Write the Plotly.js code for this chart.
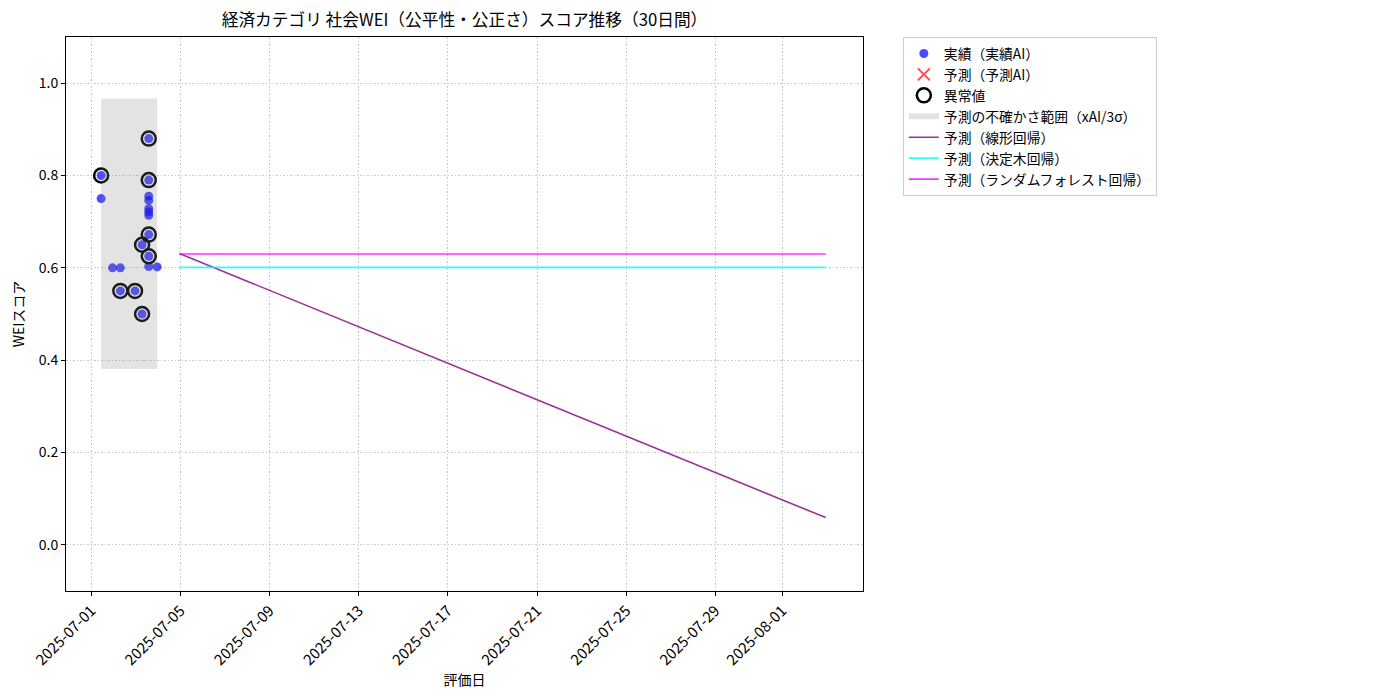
<!DOCTYPE html>
<html>
<head>
<meta charset="utf-8">
<script src="https://cdn.plot.ly/plotly-3.0.1.min.js"></script>
<style>
  body { margin: 0; background: #fff; }
  #chart { width: 1400px; height: 700px; }
</style>
</head>
<body>
<div id="chart"></div>
<script>
// Actual scores (実績AI)
const actualDates = [
  '2025-07-01 10:30', '2025-07-01 10:30', '2025-07-01 22:48', '2025-07-02 07:12', '2025-07-02 07:12',
  '2025-07-02 23:00', '2025-07-03 06:36', '2025-07-03 06:36',
  '2025-07-03 13:48', '2025-07-03 13:48', '2025-07-03 13:48', '2025-07-03 13:48', '2025-07-03 13:48',
  '2025-07-03 13:48', '2025-07-03 13:48', '2025-07-03 13:48', '2025-07-03 13:48', '2025-07-03 13:48',
  '2025-07-03 22:48'
];
const actualScores = [
  0.80, 0.75, 0.60, 0.60, 0.55,
  0.55, 0.50, 0.65,
  0.88, 0.79, 0.755, 0.746, 0.728,
  0.721, 0.714, 0.672, 0.625, 0.603,
  0.602
];

// Anomalies (異常値)
const anomalyDates = [
  '2025-07-01 10:30', '2025-07-02 07:12', '2025-07-02 23:00', '2025-07-03 06:36', '2025-07-03 06:36',
  '2025-07-03 13:48', '2025-07-03 13:48', '2025-07-03 13:48', '2025-07-03 13:48'
];
const anomalyScores = [0.80, 0.55, 0.55, 0.50, 0.65, 0.88, 0.79, 0.672, 0.625];

// Uncertainty band (xAI / 3σ)
const bandDates = ['2025-07-01 10:30', '2025-07-03 22:48'];
const bandLower = 0.381;
const bandUpper = 0.967;

// Forecast lines (30 days)
const forecastDates = ['2025-07-04 22:48', '2025-08-02 22:48'];
const linearForecast = [0.631, 0.059];
const treeForecast = [0.601, 0.601];
const forestForecast = [0.630, 0.630];

// x tick labels
const xTickDates = ['2025-07-01', '2025-07-05', '2025-07-09', '2025-07-13', '2025-07-17',
  '2025-07-21', '2025-07-25', '2025-07-29', '2025-08-01'];

const jpFont = '"Noto Sans CJK JP", "Noto Sans", sans-serif';
const gridDash = '1.5px,2px';

var bandTrace = {
  x: [bandDates[0], bandDates[1], bandDates[1], bandDates[0], bandDates[0]],
  y: [bandLower, bandLower, bandUpper, bandUpper, bandLower],
  fill: 'toself',
  fillcolor: 'rgba(128,128,128,0.22)',
  line: { width: 0, color: 'rgba(128,128,128,0)' },
  mode: 'none',
  name: '予測の不確かさ範囲（xAI/3σ）',
  hoverinfo: 'skip',
};

var actualTrace = {
  x: actualDates,
  y: actualScores,
  mode: 'markers',
  type: 'scatter',
  name: '実績（実績AI）',
  marker: { color: 'rgba(0,0,255,0.7)', size: 9 },
};

var predTrace = {
  x: [null],
  y: [null],
  mode: 'markers',
  type: 'scatter',
  name: '予測（予測AI）',
  marker: { color: 'rgba(255,0,0,0.7)', size: 12, symbol: 'x-thin', line: { width: 2, color: 'rgba(255,0,0,0.7)' } },
};

var anomalyTrace = {
  x: anomalyDates,
  y: anomalyScores,
  mode: 'markers',
  type: 'scatter',
  name: '異常値',
  marker: { color: 'black', size: 14, symbol: 'circle-open', line: { width: 2.5, color: 'black' } },
};

var linearTrace = {
  x: forecastDates,
  y: linearForecast,
  mode: 'lines',
  name: '予測（線形回帰）',
  line: { color: 'rgba(128,0,128,0.8)', width: 1.6 },
};

var treeTrace = {
  x: forecastDates,
  y: treeForecast,
  mode: 'lines',
  name: '予測（決定木回帰）',
  line: { color: 'rgba(0,255,255,0.8)', width: 1.6 },
};

var forestTrace = {
  x: forecastDates,
  y: forestForecast,
  mode: 'lines',
  name: '予測（ランダムフォレスト回帰）',
  line: { color: 'rgba(255,0,255,0.8)', width: 1.6 },
};

var layout = {
  width: 1400,
  height: 700,
  margin: { l: 66, r: 537, t: 37, b: 109, pad: 0 },
  paper_bgcolor: '#fff',
  plot_bgcolor: '#fff',
  font: { family: jpFont, size: 14, color: '#000' },
  title: {
    text: '経済カテゴリ 社会WEI（公平性・公正さ）スコア推移（30日間）',
    font: { size: 16.7 },
    x: 0.3318,
    xanchor: 'center',
    y: 0.971,
    yanchor: 'middle',
    xref: 'container',
    yref: 'container',
  },
  xaxis: {
    type: 'date',
    range: ['2025-06-29 20:40', '2025-08-04 15:00'],
    tickmode: 'array',
    tickvals: xTickDates,
    ticktext: xTickDates,
    tickangle: -45,
    ticks: 'outside',
    ticklen: 4,
    tickcolor: '#000',
    showline: true,
    linecolor: '#000',
    linewidth: 1,
    mirror: true,
    showgrid: true,
    gridcolor: '#c8c8c8',
    griddash: gridDash,
    zeroline: false,
    tickfont: { size: 15 },
    title: { text: '評価日', font: { size: 14 }, standoff: 0 },
  },
  yaxis: {
    range: [-0.1, 1.1],
    tick0: 0,
    dtick: 0.2,
    tickformat: '.1f',
    ticks: 'outside',
    ticklen: 4,
    tickcolor: '#000',
    showline: true,
    linecolor: '#000',
    linewidth: 1,
    mirror: true,
    showgrid: true,
    gridcolor: '#c8c8c8',
    griddash: gridDash,
    zeroline: false,
    tickfont: { size: 14 },
    title: { text: 'WEIスコア', font: { size: 14 }, standoff: 10 },
  },
  legend: {
    x: 1.05,
    xanchor: 'left',
    y: 1.0,
    yanchor: 'top',
    bgcolor: '#fff',
    bordercolor: '#cccccc',
    borderwidth: 1,
    font: { size: 13.8 },
    tracegroupgap: 0,
    itemwidth: 30,
  },
  showlegend: true,
};

var config = { responsive: false, displayModeBar: false, staticPlot: true };

Plotly.newPlot('chart', [actualTrace, predTrace, anomalyTrace, bandTrace, linearTrace, treeTrace, forestTrace], layout, config);
</script>
</body>
</html>
